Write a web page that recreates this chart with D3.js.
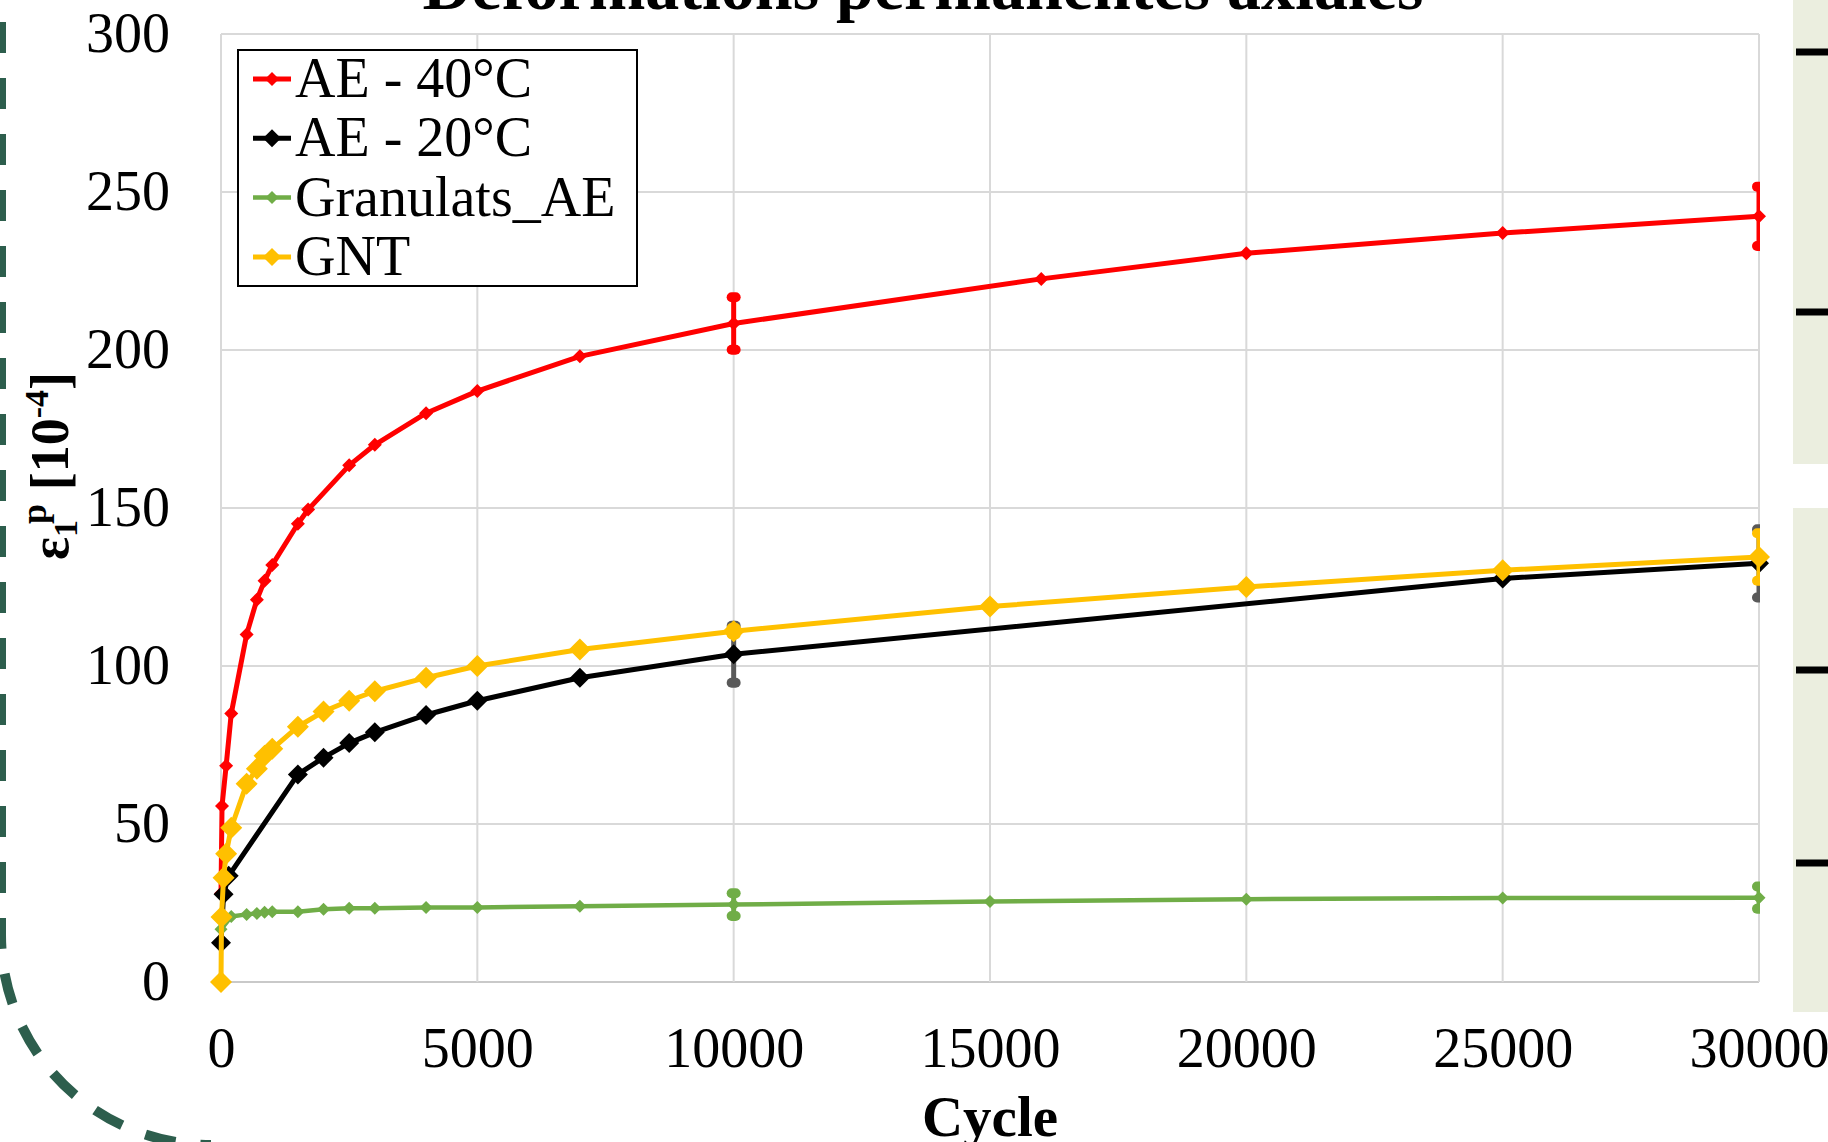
<!DOCTYPE html>
<html>
<head>
<meta charset="utf-8">
<script src="https://cdn.jsdelivr.net/npm/d3@7"></script>
<style>
  body { margin: 0; background: #fff; }
  svg { display: block; font-family: "Liberation Serif", "Times New Roman", serif; }
</style>
</head>
<body>
<svg id="chart" width="1828" height="1142"></svg>
<script>
// values
var ae40Cycles = [0, 20, 100, 200, 500, 700, 850, 1000, 1500, 1700, 2500, 3000, 4000, 5000, 7000, 10000, 16000, 20000, 25000, 30000];
var ae40Values = [28, 55.7, 68.4, 85, 110, 121, 127, 132, 145, 149.5, 163.5, 170, 180, 187, 198, 208.4, 222.5, 230.6, 237, 242.3];

var ae20Cycles = [0, 50, 150, 1500, 2000, 2500, 3000, 4000, 5000, 7000, 10000, 25000, 30000];
var ae20Values = [12.4, 27.8, 33.6, 65.7, 71, 75.6, 79, 84.5, 89, 96.3, 103.7, 127.7, 132.5];

var granCycles = [0, 200, 500, 700, 850, 1000, 1500, 2000, 2500, 3000, 4000, 5000, 7000, 10000, 15000, 20000, 25000, 30000];
var granValues = [16.7, 20.7, 21.4, 21.7, 22.1, 22.2, 22.2, 23, 23.3, 23.3, 23.6, 23.6, 24, 24.5, 25.5, 26.2, 26.6, 26.7];

var gntCycles = [0, 10, 50, 100, 200, 500, 700, 850, 1000, 1500, 2000, 2500, 3000, 4000, 5000, 7000, 10000, 15000, 20000, 25000, 30000];
var gntValues = [0, 20.6, 33, 40.6, 48.8, 62.7, 67.5, 71.6, 73.8, 80.8, 85.6, 89, 92, 96.3, 100, 105.2, 111, 118.8, 125, 130.3, 134.5];

// error bars (± value) at these cycles
var errCycles = [10000, 30000];
var ae40Err = [8.3, 9.4];
var ae20Err = [9, 10.8];
var granErr = [3.6, 3.5];
var gntErr = [1, 7.5];

var seriesNames = ["AE - 40°C", "AE - 20°C", "Granulats_AE", "GNT"];
var xTicks = [0, 5000, 10000, 15000, 20000, 25000, 30000];
var yTicks = [0, 50, 100, 150, 200, 250, 300];

var series = [
  {name: seriesNames[0], x: ae40Cycles, y: ae40Values, err: ae40Err, color: "#FF0000", errColor: "#FF0000", r: 7, w: 5},
  {name: seriesNames[1], x: ae20Cycles, y: ae20Values, err: ae20Err, color: "#000000", errColor: "#595959", r: 10, w: 5},
  {name: seriesNames[2], x: granCycles, y: granValues, err: granErr, color: "#70AD47", errColor: "#70AD47", r: 6.5, w: 4.5},
  {name: seriesNames[3], x: gntCycles, y: gntValues, err: gntErr, color: "#FFC000", errColor: "#FFC000", r: 11, w: 5}
];

var svg = d3.select("#chart");
svg.append("rect").attr("width", 1828).attr("height", 1142).attr("fill", "#fff");

var x = d3.scaleLinear().domain([0, 30000]).range([221, 1759]);
var y = d3.scaleLinear().domain([0, 300]).range([982, 34]);

// side decorations (slide background)
svg.append("rect").attr("x", 1793).attr("y", 0).attr("width", 40).attr("height", 464).attr("fill", "#EBEEDF");
svg.append("rect").attr("x", 1793).attr("y", 508).attr("width", 40).attr("height", 504).attr("fill", "#EBEEDF");
[52, 312, 670, 863].forEach(function(d){
  svg.append("rect").attr("x", 1796).attr("y", d - 3.5).attr("width", 40).attr("height", 7).attr("fill", "#000");
});
svg.append("path")
  .attr("d", "M1,-34 L1,935 A210,210 0 0 0 211,1145")
  .attr("fill", "none")
  .attr("stroke", "#2D5E4D")
  .attr("stroke-width", 10)
  .attr("stroke-dasharray", "31 25");

// grid
var grid = svg.append("g");
grid.selectAll(".hg").data(yTicks).enter().append("line")
  .attr("x1", x(0)).attr("x2", x(30000))
  .attr("y1", function(d){ return y(d); }).attr("y2", function(d){ return y(d); })
  .attr("stroke", function(d){ return d === 0 ? "#C9C9C9" : "#D9D9D9"; })
  .attr("stroke-width", 2);
grid.selectAll(".vg").data(xTicks).enter().append("line")
  .attr("x1", function(d){ return x(d); }).attr("x2", function(d){ return x(d); })
  .attr("y1", y(300)).attr("y2", y(0))
  .attr("stroke", "#D9D9D9")
  .attr("stroke-width", 2);

// axes (labels only)
var yAxis = svg.append("g")
  .attr("transform", "translate(170,0)")
  .call(d3.axisLeft(y).tickValues(yTicks).tickSize(0).tickPadding(0).tickFormat(d3.format("d")));
yAxis.select(".domain").remove();
yAxis.selectAll("text").attr("font-size", 56).attr("font-family", "Liberation Serif").attr("fill", "#000").attr("dy", "0.32em");

var xAxis = svg.append("g")
  .attr("transform", "translate(0,1029)")
  .call(d3.axisBottom(x).tickValues(xTicks).tickSize(0).tickPadding(0).tickFormat(d3.format("d")));
xAxis.select(".domain").remove();
xAxis.selectAll("text").attr("font-size", 56).attr("font-family", "Liberation Serif").attr("fill", "#000").attr("dy", "0.68em");

svg.append("defs").append("clipPath").attr("id", "plotclip")
  .append("rect").attr("x", 200).attr("y", 0).attr("width", x(30000) + 1 - 200).attr("height", 1142);

function diamond(r){ return "M0," + (-r) + "L" + r + ",0L0," + r + "L" + (-r) + ",0Z"; }

var line = d3.line().x(function(d){ return x(d[0]); }).y(function(d){ return y(d[1]); });

series.forEach(function(s){
  var pts = s.x.map(function(c, i){ return [c, s.y[i]]; });
  var g = svg.append("g");
  g.append("path").datum(pts).attr("d", line)
    .attr("fill", "none").attr("stroke", s.color).attr("stroke-width", s.w).attr("stroke-linejoin", "round");

  var eb = g.append("g").attr("clip-path", "url(#plotclip)");
  errCycles.forEach(function(c, i){
    var v = s.y[s.x.indexOf(c)];
    var e = s.err[i];
    var cx = x(c);
    eb.append("line").attr("x1", cx).attr("x2", cx).attr("y1", y(v + e)).attr("y2", y(v - e))
      .attr("stroke", s.errColor).attr("stroke-width", 5);
    [v + e, v - e].forEach(function(t){
      eb.append("line").attr("x1", cx - 2).attr("x2", cx + 2).attr("y1", y(t)).attr("y2", y(t))
        .attr("stroke", s.errColor).attr("stroke-width", 10).attr("stroke-linecap", "round");
    });
  });

  g.selectAll(".m").data(pts).enter().append("path")
    .attr("d", diamond(s.r))
    .attr("transform", function(d){ return "translate(" + x(d[0]) + "," + y(d[1]) + ")"; })
    .attr("fill", s.color);
});

// legend
var leg = svg.append("g");
leg.append("rect").attr("x", 238).attr("y", 50).attr("width", 399).attr("height", 236)
  .attr("fill", "#fff").attr("stroke", "#000").attr("stroke-width", 2);
series.forEach(function(s, i){
  var ly = 79 + i * 59.3;
  leg.append("line").attr("x1", 253).attr("x2", 291).attr("y1", ly).attr("y2", ly)
    .attr("stroke", s.color).attr("stroke-width", s.w);
  leg.append("path").attr("d", diamond(Math.min(s.r, 9))).attr("transform", "translate(272," + ly + ")").attr("fill", s.color);
  leg.append("text").attr("x", 295).attr("y", ly + 18).attr("font-size", 56).text(s.name);
});

// titles
svg.append("text").attr("x", 923).attr("y", 9).attr("text-anchor", "middle")
  .attr("font-size", 68).attr("font-weight", "bold").text("Déformations permanentes axiales");

svg.append("text").attr("x", 990).attr("y", 1136).attr("text-anchor", "middle")
  .attr("font-size", 57).attr("font-weight", "bold").text("Cycle");

var yl = svg.append("text")
  .attr("transform", "translate(68,466) rotate(-90)")
  .attr("text-anchor", "middle").attr("font-size", 54).attr("font-weight", "bold");
yl.append("tspan").text("ε");
yl.append("tspan").attr("font-size", 34).attr("dy", 9).text("1");
yl.append("tspan").attr("font-size", 36).attr("dx", -4).attr("dy", -31).text("p");
yl.append("tspan").attr("dy", 22).text(" [10");
yl.append("tspan").attr("font-size", 34).attr("dy", -20).text("-4");
yl.append("tspan").attr("dy", 20).text("]");
</script>
</body>
</html>
